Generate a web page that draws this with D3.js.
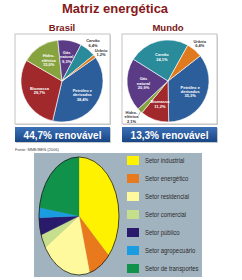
<!DOCTYPE html>
<html>
<head>
<meta charset="utf-8">
<script src="https://cdn.jsdelivr.net/npm/d3@7"></script>
<style>
  body { margin: 0; background: #fff; }
  svg { display: block; }
</style>
</head>
<body>
<div id="chart"></div>
<script>
var width = 242;
var height = 280;

// fontes de energia (pizzas de cima)
var fontes = ["Petróleo e derivados", "Biomassa", "Hidro-elétrica", "Gás natural", "Carvão", "Urânio"];
var fontesRotulo = [["Petróleo e", "derivados"], ["Biomassa"], ["Hidro-", "elétrica"], ["Gás", "natural"], ["Carvão"], ["Urânio"]];
var fontesCores = ["#2d5e9c", "#a1292b", "#87a33f", "#5b3a86", "#2a8b9b", "#e07a1f"];
var brasilValores = [38.4, 29.7, 15.0, 9.3, 6.4, 1.2];
var mundoValores = [35.3, 11.2, 2.1, 20.9, 24.1, 6.4];
var renovaveis = ["Biomassa", "Hidro-elétrica"];

// consumo por setor (pizza de baixo)
var setores = ["Setor industrial", "Setor energético", "Setor residencial", "Setor comercial", "Setor público", "Setor agropecuário", "Setor de transportes"];
var setoresCores = ["#fff200", "#e8791c", "#fff99e", "#c6df8c", "#2a1a6c", "#1a9de0", "#10924a"];
var consumo = [36.7, 9.0, 20.3, 3.8, 4.7, 2.8, 22.7];

var svg = d3.select("#chart")
    .append("svg")
    .attr("width", width)
    .attr("height", height);

var defs = svg.append("defs");
var grad = defs.append("linearGradient")
    .attr("id", "faixa")
    .attr("x1", 0).attr("y1", 0).attr("x2", 0).attr("y2", 1);
grad.append("stop").attr("offset", "0%").attr("stop-color", "#3c71b8");
grad.append("stop").attr("offset", "100%").attr("stop-color", "#184685");

svg.append("text")
    .attr("x", 115)
    .attr("y", 13)
    .attr("text-anchor", "middle")
    .attr("font-family", "Liberation Sans, Arial, sans-serif")
    .attr("font-weight", "bold")
    .attr("font-size", 13)
    .attr("fill", "#861818")
    .text("Matriz energética");

function fmt(v) {
    return v.toFixed(1).replace(".", ",") + "%";
}

function drawPanel(titulo, valores, x0, cx, startDeg) {
    var cy = 81, r = 41;

    svg.append("text")
        .attr("x", cx)
        .attr("y", 31)
        .attr("text-anchor", "middle")
        .attr("font-family", "Liberation Sans, Arial, sans-serif")
        .attr("font-weight", "bold")
        .attr("font-size", 9.5)
        .attr("fill", "#7a1717")
        .text(titulo);

    svg.append("rect")
        .attr("x", x0 + 1).attr("y", 35)
        .attr("width", 95).attr("height", 90)
        .attr("fill", "#d8d8d8");
    svg.append("rect")
        .attr("x", x0).attr("y", 34)
        .attr("width", 95).attr("height", 90)
        .attr("fill", "#fff")
        .attr("stroke", "#b5b5b5")
        .attr("stroke-width", 0.8);

    var pie = d3.pie()
        .sort(null)
        .startAngle(startDeg * Math.PI / 180)
        .endAngle(startDeg * Math.PI / 180 + 2 * Math.PI);
    var arcs = pie(valores);
    var arc = d3.arc().innerRadius(0).outerRadius(r);

    var g = svg.append("g").attr("transform", "translate(" + cx + "," + cy + ")");
    g.selectAll("path")
        .data(arcs)
        .enter()
        .append("path")
        .attr("d", arc)
        .attr("fill", function(d, i) { return fontesCores[i]; })
        .attr("stroke", "#fff")
        .attr("stroke-width", 0.6);

    var ultimoFora = { dir: -999, esq: -999 };
    arcs.forEach(function(d, i) {
        var fora = d.data < 7;
        var mid = (d.startAngle + d.endAngle) / 2;
        var lado = Math.sin(mid) >= 0 ? "dir" : "esq";
        var rr = fora ? r + 8 : r * 0.6;
        var lx = Math.sin(mid) * rr;
        var ly = -Math.cos(mid) * rr;
        var linhas = fontesRotulo[i].concat([fmt(d.data)]);
        var alt = linhas.length * 4.4;
        if (fora) {
            // evita sobrepor o rótulo de fora anterior do mesmo lado
            if (ly - alt / 2 < ultimoFora[lado] + 0.5) ly = ultimoFora[lado] + 0.5 + alt / 2;
            ultimoFora[lado] = ly + alt / 2;
        }
        if (fora && lado == "esq") {
            g.append("line")
                .attr("x1", Math.sin(mid) * (r - 2)).attr("y1", -Math.cos(mid) * (r - 2))
                .attr("x2", lx + 4).attr("y2", ly - 1)
                .attr("stroke", "#555").attr("stroke-width", 0.4);
            lx -= 3;
        }
        var t = g.append("text")
            .attr("text-anchor", "middle")
            .attr("font-family", "Liberation Sans, Arial, sans-serif")
            .attr("font-weight", "bold")
            .attr("font-size", 4)
            .attr("fill", fora ? "#333" : "#fff");
        var y0 = ly - (linhas.length - 1) * 2.2 + 1.4;
        linhas.forEach(function(s, k) {
            t.append("tspan")
                .attr("x", lx)
                .attr("y", y0 + k * 4.4)
                .text(s);
        });
    });

    var ren = d3.sum(valores.filter(function(v, i) { return renovaveis.indexOf(fontes[i]) >= 0; }));

    svg.append("rect")
        .attr("x", x0 + 1).attr("y", 128)
        .attr("width", 95).attr("height", 15)
        .attr("fill", "#c9c9c9");
    svg.append("rect")
        .attr("x", x0).attr("y", 127)
        .attr("width", 95).attr("height", 15)
        .attr("fill", "url(#faixa)");
    svg.append("text")
        .attr("x", x0 + 47.5)
        .attr("y", 138.5)
        .attr("text-anchor", "middle")
        .attr("font-family", "Liberation Sans, Arial, sans-serif")
        .attr("font-weight", "bold")
        .attr("font-size", 10)
        .attr("fill", "#fff")
        .text(fmt(ren) + " renovável");
}

drawPanel("Brasil", brasilValores, 15, 62, 55);
drawPanel("Mundo", mundoValores, 122, 168, 52);

svg.append("text")
    .attr("x", 15)
    .attr("y", 151)
    .attr("font-family", "Liberation Sans, Arial, sans-serif")
    .attr("font-size", 4)
    .attr("fill", "#444")
    .text("Fonte: MME/BEN (2006)");

// pizza oval de consumo
svg.append("rect")
    .attr("x", 34).attr("y", 153)
    .attr("width", 168).attr("height", 124)
    .attr("fill", "#a2b3c0");

var ex = 79, ey = 216, erx = 40, ery = 59;
var pie2 = d3.pie().sort(null);
var arc2 = d3.arc().innerRadius(0).outerRadius(1);
svg.append("g")
    .attr("transform", "translate(" + ex + "," + ey + ") scale(" + erx + "," + ery + ")")
    .selectAll("path")
    .data(pie2(consumo))
    .enter()
    .append("path")
    .attr("d", arc2)
    .attr("fill", function(d, i) { return setoresCores[i]; })
    .attr("stroke", function(d, i) { return setoresCores[i]; })
    .attr("stroke-width", 0.3)
    .attr("vector-effect", "non-scaling-stroke");

svg.append("ellipse")
    .attr("cx", ex).attr("cy", ey)
    .attr("rx", erx).attr("ry", ery)
    .attr("fill", "none")
    .attr("stroke", "#1a1a1a")
    .attr("stroke-width", 0.8);

var ly = d3.scaleBand()
    .domain(setores)
    .range([151.5, 277.5])
    .paddingInner(0.5)
    .paddingOuter(0.25);

var leg = svg.append("g");
leg.selectAll("rect")
    .data(setores)
    .enter()
    .append("rect")
    .attr("x", 127)
    .attr("y", function(d) { return ly(d); })
    .attr("width", 12)
    .attr("height", ly.bandwidth())
    .attr("fill", function(d, i) { return setoresCores[i]; });

// texto estreito: Liberation Sans comprimida na horizontal
leg.selectAll("text")
    .data(setores)
    .enter()
    .append("text")
    .attr("transform", function(d) { return "translate(145," + (ly(d) + ly.bandwidth() / 2 + 2.6) + ") scale(0.8,1)"; })
    .attr("font-family", "Liberation Sans, Arial, sans-serif")
    .attr("font-size", 7.4)
    .attr("fill", "#2a2a2a")
    .text(function(d) { return d; });
</script>
</body>
</html>
